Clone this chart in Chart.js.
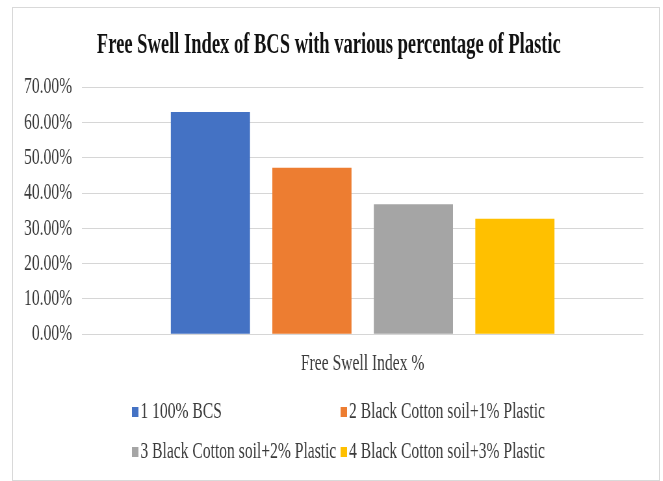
<!DOCTYPE html>
<html>
<head>
<meta charset="utf-8">
<title>Free Swell Index of BCS</title>
<script src="https://cdn.jsdelivr.net/npm/chart.js@4.4.1/dist/chart.umd.min.js"></script>
<style>
    body { margin: 0; background: #fff; }
</style>
</head>
<body>
<!-- drawn 994px wide and shown 646px wide, which gives the narrow lettering;
     the size has to be inline so Chart.js keeps it -->
<canvas id="fsiChart" width="994" height="472"
    style="position:absolute;left:12px;top:7px;width:648px;height:474px;border:1px solid #d9d9d9;box-sizing:border-box"></canvas>
<script>
// Free swell index (%) per mix
const categories = ['Free Swell Index %'];
const seriesNames = [
    '1 100% BCS',
    '2 Black Cotton soil+1% Plastic',
    '3 Black Cotton soil+2% Plastic',
    '4 Black Cotton soil+3% Plastic'
];
const bcsValues = [63.0];
const plastic1Values = [47.2];
const plastic2Values = [36.8];
const plastic3Values = [32.7];
const seriesColors = ['#4472C4', '#ED7D31', '#A5A5A5', '#FFC000'];
const yTickLabels = ['0.00%', '10.00%', '20.00%', '30.00%', '40.00%', '50.00%', '60.00%', '70.00%'];

const serif = "'Times New Roman', 'Liberation Serif', serif";
const textColor = '#3a3a3a';

// Two-column legend, laid out in a grid under the axis
const gridLegend = {
    id: 'gridLegend',
    afterDraw(chart, args, opts) {
        const ctx = chart.ctx;
        ctx.save();
        ctx.font = opts.font;
        ctx.textBaseline = 'middle';
        ctx.textAlign = 'left';
        chart.data.datasets.forEach((ds, i) => {
            const x = opts.left + (i % 2) * opts.colWidth;
            const y = opts.top + Math.floor(i / 2) * opts.rowHeight;
            ctx.fillStyle = ds.backgroundColor;
            ctx.fillRect(x, y - opts.boxSize / 2, opts.boxSize, opts.boxSize);
            ctx.fillStyle = opts.color;
            ctx.fillText(ds.label, x + opts.boxSize + opts.gap, y);
        });
        ctx.restore();
    }
};

const seriesData = [bcsValues, plastic1Values, plastic2Values, plastic3Values];

new Chart(document.getElementById('fsiChart'), {
    type: 'bar',
    data: {
        labels: categories,
        datasets: seriesData.map((values, i) => ({
            label: seriesNames[i],
            data: values,
            backgroundColor: seriesColors[i],
            borderWidth: 0,
            categoryPercentage: 0.723,
            barPercentage: 0.78
        }))
    },
    options: {
        responsive: false,
        animation: false,
        layout: {
            padding: { left: 2, right: 24, top: 0, bottom: 87 }
        },
        plugins: {
            legend: { display: false },
            tooltip: { enabled: false },
            title: {
                display: true,
                text: 'Free Swell Index of BCS with various percentage of Plastic',
                color: '#111',
                font: { family: serif, size: 28.5, weight: 'bold' },
                padding: { top: 21, bottom: 24 }
            },
            gridLegend: {
                font: '24px ' + serif,
                color: textColor,
                left: 183,
                top: 404,
                colWidth: 321,
                rowHeight: 40,
                boxSize: 10,
                gap: 3
            }
        },
        scales: {
            x: {
                grid: { display: false, drawTicks: false },
                border: { display: false },
                ticks: {
                    color: textColor,
                    padding: 15,
                    font: { family: serif, size: 24 }
                }
            },
            y: {
                min: 0,
                max: 70,
                border: { display: false },
                grid: { color: '#d6d6d6', lineWidth: 1, drawTicks: false },
                ticks: {
                    stepSize: 10,
                    padding: 15,
                    color: textColor,
                    font: { family: serif, size: 24 },
                    callback: (value, index) => yTickLabels[index]
                }
            }
        }
    },
    plugins: [gridLegend]
});
</script>
</body>
</html>
